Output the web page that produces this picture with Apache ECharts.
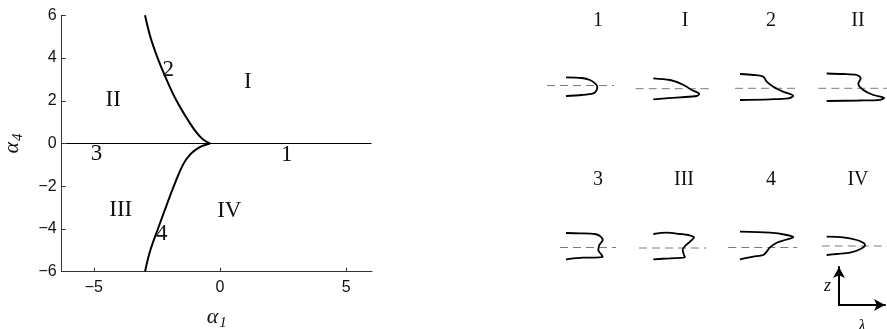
<!DOCTYPE html>
<html><head><meta charset="utf-8">
<script src="https://cdn.jsdelivr.net/npm/echarts@6/dist/echarts.min.js"></script>
<style>html,body{margin:0;padding:0;background:#fff}#c{width:887px;height:329px}</style>
</head><body><div id="c"></div>
<script>
// ---- bifurcation diagram in the (alpha1, alpha4) plane ----
const axisLineBranch = [[-6.1, 0], [-0.4, 0], [6, 0]];
const upperBranch = [[-2.97, 6], [-2.76, 5], [-2.47, 4], [-2.12, 3], [-1.72, 2], [-1.22, 1], [-0.92, 0.5], [-0.68, 0.2], [-0.4, 0]];
const lowerBranch = [[-2.97, -6], [-2.76, -5], [-2.46, -4], [-2.15, -3], [-1.83, -2], [-1.47, -1], [-1.17, -0.5], [-0.85, -0.2], [-0.4, 0]];
const regionLabels = [
  [-4.23, 2.03, 'II'], [-2.05, 3.44, '2'], [-4.89, -0.47, '3'], [1.10, 2.89, 'I'],
  [2.64, -0.55, '1'], [-3.93, -3.13, 'III'], [-2.31, -4.22, '4'], [0.37, -3.16, 'IV']
];
const xTicks = [-5, 0, 5];
const yTicks = [-6, -4, -2, 0, 2, 4, 6];

// ---- interface profile sketches (lambda horizontal, z vertical) ----
const sketchNames = ['1', 'I', '2', 'II', '3', 'III', '4', 'IV'];
const sketchProfiles = [
  [[11, 8.2], [26.7, 7.5], [35, 5.5], [40, 2.2], [42.3, -1.2], [41.3, -5.2], [38.3, -7.8], [26.7, -9.5], [11, -10.5]],
  [[17.6, 10.4], [34.3, 8.7], [44.3, 5.4], [51, 2], [56, -1.3], [63.6, -5.3], [61, -7.3], [44.3, -8.6], [17.6, -10.6]],
  [[5, 14.3], [18.3, 13.3], [28.3, 11.6], [31.7, 6.6], [38.3, 1.6], [48.3, -3.4], [58.3, -7.7], [53.3, -10], [35, -11], [5, -11.7]],
  [[8.4, 14.8], [25, 14.3], [38.4, 13.3], [42.4, 10], [40, 4.5], [45, -1.7], [55, -6.7], [66, -9.5], [62, -11.5], [40, -12.2], [8.4, -12.7]],
  [[6, 14.5], [20, 14.2], [35, 13.5], [40, 11.5], [42.7, 7.5], [39.3, 2.5], [38.3, -2.5], [41.7, -7.5], [42.7, -9.8], [23.3, -10.2], [6, -11.8]],
  [[14.3, 14], [27.7, 15.3], [41, 14], [49.3, 13], [55, 10.7], [51, 6.3], [46, 2], [43.7, -2], [45, -7], [46, -9.3], [31, -10.3], [14.3, -11.3]],
  [[11.7, 15.8], [41.7, 14.8], [58.4, 12.5], [65, 10.2], [56.7, 7.5], [48.4, 4.8], [41.7, 0.2], [38.4, -4.2], [35, -7.5], [25, -9.2], [11.7, -11.8]],
  [[5, 9.3], [21.6, 8.7], [35, 6], [42.3, 2.7], [43.3, 1], [38.3, -3.3], [28.3, -6.7], [15, -8], [5, -9]]
];
const sketchDashSpans = [[-8, 59], [0, 77], [0, 65], [0, 69], [0, 56], [0, 67], [0, 69], [0, 66]];

// layout of the sketch panels (pixel origin of each small frame, label centre)
const sketchOrigins = [[555, 85.5], [635.7, 88.7], [735, 88.3], [818.3, 88.3], [560, 247.5], [639, 248], [728.3, 247.5], [821.7, 246]];
const sketchLabelPos = [[598, 20.5], [685, 20.5], [771, 20.5], [858, 20.5], [598, 180], [684, 180], [771, 180], [858, 180]];

const serif = 'Liberation Serif';
const sans = 'Liberation Sans';
const ink = '#111';
const minus = v => String(v).replace('-', '\u2212');

const nameRich = {
  a: { fontFamily: serif, fontStyle: 'italic', fontSize: 22, color: ink },
  s: { fontFamily: serif, fontStyle: 'italic', fontSize: 15, color: ink, verticalAlign: 'bottom', padding: [12, 0, 0, 1] }
};

const grids = [{ left: 61.7, top: 15.3, width: 310.3, height: 256.4, outerBoundsMode: 'none', containLabel: false }];
const xAxes = [{
  type: 'value', gridIndex: 0, min: -6.27, max: 6.02,
  axisLine: { onZero: false, lineStyle: { color: '#333', width: 1 } },
  splitLine: { show: false },
  axisTick: { inside: true, length: 4, customValues: xTicks, lineStyle: { color: '#333' } },
  axisLabel: { customValues: xTicks, formatter: minus, fontFamily: sans, fontSize: 16, color: ink, margin: 8 },
  name: '{a|\u03b1}{s|1}', nameLocation: 'middle', nameGap: 32,
  nameTextStyle: { rich: nameRich }
}];
const yAxes = [{
  type: 'value', gridIndex: 0, min: -6, max: 6, interval: 2,
  axisLine: { show: true, onZero: false, lineStyle: { color: '#333', width: 1 } },
  splitLine: { show: false },
  axisTick: { show: true, inside: true, length: 4, lineStyle: { color: '#333' } },
  axisLabel: { formatter: minus, fontFamily: sans, fontSize: 16, color: ink, margin: 5 },
  name: '{a|\u03b1}{s|4}', nameLocation: 'middle', nameGap: 36, nameRotate: 90,
  nameTextStyle: { rich: nameRich }
}];

const series = [
  { type: 'line', xAxisIndex: 0, yAxisIndex: 0, data: axisLineBranch, showSymbol: false, lineStyle: { color: '#000', width: 1.2 }, z: 3 },
  { type: 'line', xAxisIndex: 0, yAxisIndex: 0, data: upperBranch, smooth: 0.4, showSymbol: false, lineStyle: { color: '#000', width: 2 }, z: 4 },
  { type: 'line', xAxisIndex: 0, yAxisIndex: 0, data: lowerBranch, smooth: 0.4, showSymbol: false, lineStyle: { color: '#000', width: 2 }, z: 4 },
  { type: 'scatter', xAxisIndex: 0, yAxisIndex: 0, data: regionLabels, symbolSize: 0, z: 5,
    itemStyle: { opacity: 1 },
    label: { show: true, position: 'inside', formatter: p => p.data[2], fontFamily: serif, fontSize: 23, color: ink } }
];

const graphics = [];
sketchOrigins.forEach(([ox, oy], i) => {
  const gi = grids.length;
  grids.push({ left: ox - 10, top: oy - 20, width: 90, height: 40, outerBoundsMode: 'none', containLabel: false });
  xAxes.push({ type: 'value', gridIndex: gi, min: -10, max: 80, show: false });
  yAxes.push({ type: 'value', gridIndex: gi, min: -20, max: 20, show: false });
  const [d0, d1] = sketchDashSpans[i];
  series.push({ type: 'line', xAxisIndex: gi, yAxisIndex: gi, data: [[d0, 0], [d1, 0]], showSymbol: false,
    lineStyle: { color: '#7a7a7a', width: 1, type: [8, 5] }, z: 2 });
  series.push({ type: 'line', xAxisIndex: gi, yAxisIndex: gi, data: sketchProfiles[i], smooth: 0.3, showSymbol: false,
    lineStyle: { color: '#000', width: 1.8 }, z: 3 });
  graphics.push({ type: 'text', x: sketchLabelPos[i][0], y: sketchLabelPos[i][1],
    style: { text: sketchNames[i], fontFamily: serif, fontSize: 20, fill: ink, align: 'center', verticalAlign: 'middle' } });
});

// z / lambda orientation frame
const fi = grids.length;
grids.push({ left: 839, top: 267, width: 46, height: 38, outerBoundsMode: 'none', containLabel: false });
const frameLine = { show: true, onZero: false, symbol: ['none', 'arrow'], symbolSize: [9, 11], lineStyle: { color: '#000', width: 2 } };
xAxes.push({ type: 'value', gridIndex: fi, min: 0, max: 1,
  axisLine: frameLine,
  axisTick: { show: false }, axisLabel: { show: false }, splitLine: { show: false },
  name: '\u03bb', nameLocation: 'middle', nameGap: 13,
  nameTextStyle: { fontFamily: serif, fontStyle: 'italic', fontSize: 17, color: ink } });
yAxes.push({ type: 'value', gridIndex: fi, min: 0, max: 1,
  axisLine: frameLine,
  axisTick: { show: false }, axisLabel: { show: false }, splitLine: { show: false },
  name: 'z', nameLocation: 'middle', nameGap: 8, nameRotate: 0,
  nameTextStyle: { fontFamily: serif, fontStyle: 'italic', fontSize: 18, color: ink } });

const chart = echarts.init(document.getElementById('c'), null, { renderer: 'canvas' });
chart.setOption({
  animation: false,
  backgroundColor: '#fff',
  grid: grids, xAxis: xAxes, yAxis: yAxes, series: series, graphic: graphics
});
</script></body></html>
